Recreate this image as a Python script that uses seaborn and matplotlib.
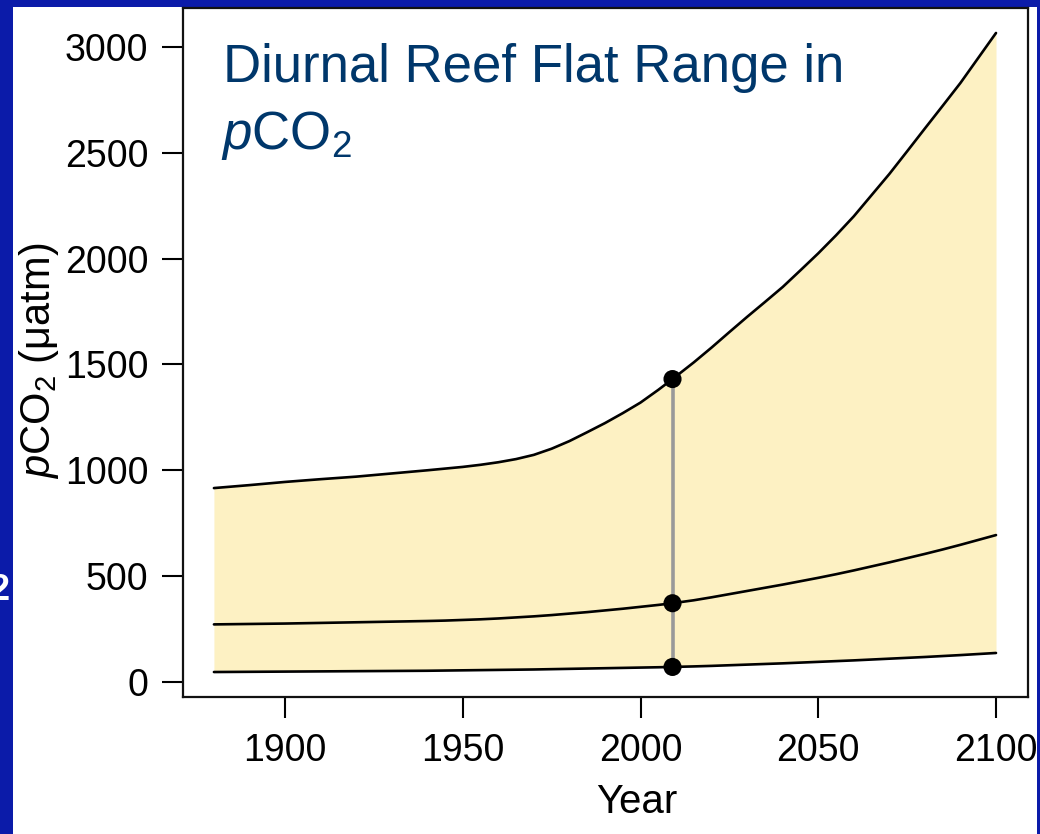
import numpy as np
import pandas as pd
import matplotlib
matplotlib.use('Agg')
import matplotlib.pyplot as plt
from matplotlib.patches import Rectangle
import seaborn as sns

# values
years = [1880, 1890, 1900, 1910, 1920, 1930, 1940, 1945, 1950, 1955,
         1960, 1965, 1970, 1975, 1980, 1985, 1990, 1995, 2000, 2005,
         2009, 2015, 2020, 2025, 2030, 2035, 2040, 2045, 2050, 2055,
         2060, 2065, 2070, 2075, 2080, 2085, 2090, 2095, 2100]
upper = [916, 930, 945, 958, 970, 985, 1000, 1008, 1016, 1026,
         1038, 1053, 1073, 1102, 1138, 1180, 1223, 1270, 1320, 1380,
         1431, 1510, 1580, 1653, 1725, 1795, 1866, 1945, 2025, 2110,
         2200, 2300, 2400, 2507, 2615, 2722, 2830, 2948, 3066]
middle = [272, 274, 276, 279, 282, 285, 288, 290, 293, 296,
          300, 305, 310, 316, 323, 330, 338, 346, 355, 364,
          372, 386, 400, 415, 430, 445, 460, 476, 492, 509,
          527, 546, 565, 585, 605, 626, 648, 671, 694]
lower = [47, 48, 49, 50, 51, 52, 53, 54, 55, 56,
         57, 58, 59, 60.5, 62, 63.5, 65, 66.5, 68, 69.5,
         71, 73.5, 76, 79, 82, 85, 88, 91.5, 95, 98.5,
         102, 106, 110, 114, 118, 122.5, 127, 132, 137]
today = 2009

x_ticks = [1900, 1950, 2000, 2050, 2100]
y_ticks = [0, 500, 1000, 1500, 2000, 2500, 3000]

df = pd.DataFrame({'Year': years, 'upper': upper, 'middle': middle, 'lower': lower})
long = df.melt(id_vars='Year', var_name='curve', value_name='pCO2')
now = long[long['Year'] == today]

sns.set_style('white')
plt.rcParams['font.family'] = ['Liberation Sans', 'DejaVu Sans']
plt.rcParams['mathtext.fontset'] = 'custom'
plt.rcParams['mathtext.rm'] = 'Liberation Sans'
plt.rcParams['mathtext.it'] = 'Liberation Sans:italic'

blue = '#0B1BA9'
navy = '#00376B'
fill = '#FDF1C3'

fig = plt.figure(figsize=(10.4, 8.34), dpi=100, facecolor=blue)
fig.add_artist(Rectangle((13 / 1040, 0), (1037 - 13) / 1040, 1 - 7 / 834,
                         transform=fig.transFigure, facecolor='white',
                         edgecolor='none', zorder=-5))
ax = fig.add_axes([183 / 1040, 1 - 697 / 834, (1028 - 183) / 1040, (697 - 8) / 834])

ax.fill_between(df['Year'], df['lower'], df['upper'], color=fill, lw=0, zorder=1)
sns.lineplot(data=long, x='Year', y='pCO2', units='curve', estimator=None,
             color='black', lw=1.9, ax=ax, zorder=3)
ax.plot([today, today], [now['pCO2'].min(), now['pCO2'].max()],
        color='#999999', lw=2.6, zorder=2, solid_capstyle='butt')
sns.scatterplot(data=now, x='Year', y='pCO2', color='black', s=170,
                edgecolor='none', ax=ax, zorder=4)

ax.set_xlim(1871.3, 2109)
ax.set_ylim(-71, 3184)
ax.set_xticks(x_ticks)
ax.set_yticks(y_ticks)
ax.set_xlabel('')
ax.set_ylabel('')
ax.tick_params(axis='both', direction='out', length=15, width=1.5,
               labelsize=27, colors='black', bottom=True, left=True)
ax.tick_params(axis='y', pad=10)
ax.tick_params(axis='x', pad=11)
for sp in ax.spines.values():
    sp.set_color('#111111')
    sp.set_linewidth(1.6)

ax.text(223 / 1040, 1 - 82 / 834, 'Diurnal Reef Flat Range in', transform=fig.transFigure,
        fontsize=38, color=navy, ha='left', va='baseline')
ax.text(221 / 1040, 1 - 149 / 834, r'$\mathit{p}$CO$_2$', transform=fig.transFigure,
        fontsize=38, color=navy, ha='left', va='baseline')

fig.text(39 / 1040, 1 - 361 / 834, r'$\mathit{p}$CO$_2$ (μatm)', rotation=90,
         fontsize=30, ha='center', va='center', color='black')
fig.text(637 / 1040, 1 - 802 / 834, 'Year', fontsize=29, ha='center', va='center',
         color='black')
# fragment of white slide text cut by the left edge
fig.text(10 / 1040, 1 - 590 / 834, '2', fontsize=26, ha='right', va='center',
         color='white', fontweight='bold')

fig.savefig('out.png', dpi=100, facecolor=fig.get_facecolor())
